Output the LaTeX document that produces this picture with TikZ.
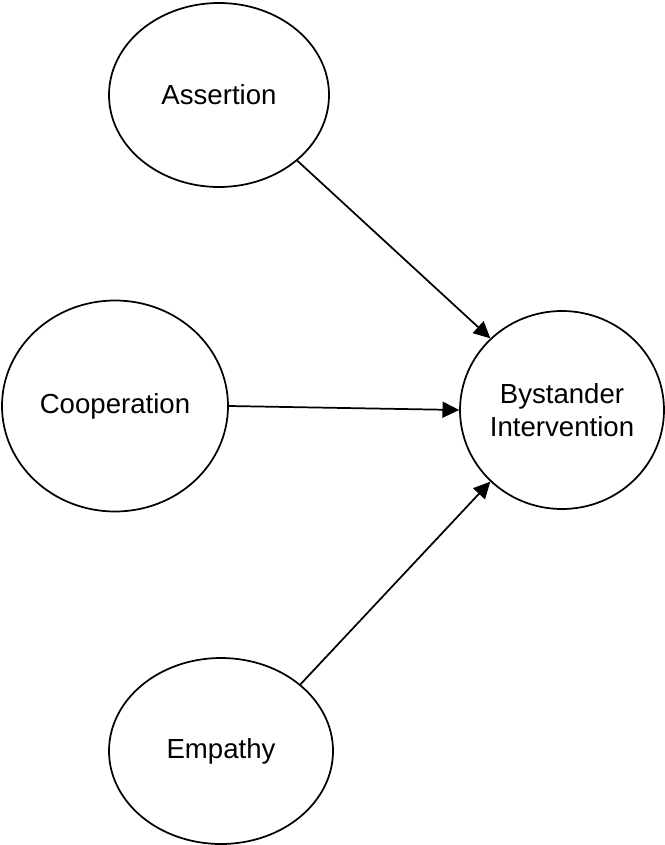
\documentclass[tikz,border=0pt]{standalone}
\usepackage{fontspec}
\setmainfont{Liberation Sans}
\usetikzlibrary{arrows.meta,shapes.geometric}

\begin{document}
\begin{tikzpicture}[x=0.75pt,y=-0.75pt,->,>={Triangle[length=12.5pt,width=12pt]},
      line width=1.3pt]
    \tikzstyle{construct}=[ellipse,draw,inner sep=0pt,align=center,
      font=\fontsize{20.7}{24.75}\selectfont]

    \useasboundingbox (0,0) rectangle (664,845);

    \node[construct,minimum width=165pt,minimum height=138pt]     (assert) at (219,95)  {Assertion};
    \node[construct,minimum width=169.5pt,minimum height=158.25pt] (coop)   at (115,406) {Cooperation};
    \node[construct,minimum width=168pt,minimum height=139.5pt]   (empath) at (221,751) {Empathy};
    \node[construct,minimum width=151.5pt,minimum height=148.5pt] (byst)   at (562,410) {Bystander\\Intervention};

    \draw (assert.-40) -- (byst.135);
    \draw (coop.0)     -- (byst.180);
    \draw (empath.40)  -- (byst.225);
  \end{tikzpicture}
\end{document}
